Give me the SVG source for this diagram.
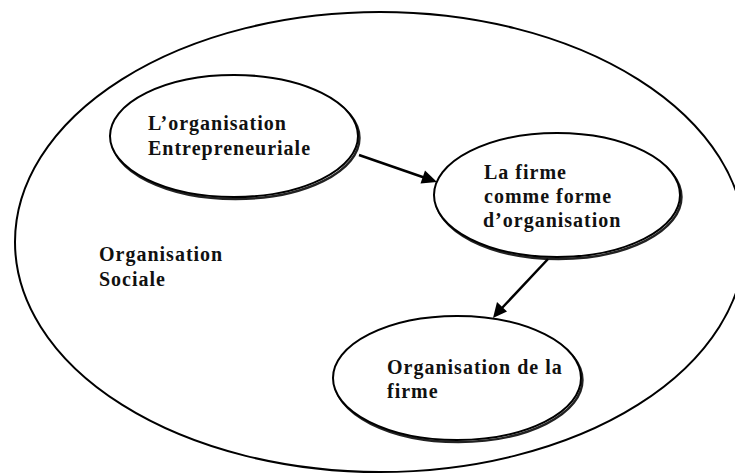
<svg xmlns="http://www.w3.org/2000/svg" width="735" height="473" viewBox="0 0 735 473">
  <style>
    .rim { fill: none; stroke: #000; stroke-width: 2; }
    .shade { fill: none; stroke: #222; stroke-width: 2.4; }
    .node { fill: #fff; stroke: #000; stroke-width: 2; }
    .lbl { font-family: "Liberation Serif", "Times New Roman", serif; font-weight: bold; font-size: 20px; letter-spacing: 1px; fill: #111; }
    .link { stroke: #000; stroke-width: 2.5; fill: none; }
    .tip { fill: #000; }
  </style>
  <rect width="735" height="473" fill="#fff"/>

  <!-- enclosing social organisation (runs slightly past the right and bottom borders) -->
  <g id="organisation-sociale">
    <ellipse class="rim" cx="380" cy="242" rx="365" ry="230"/>
    <text class="lbl" x="99" y="261">Organisation</text>
    <text class="lbl" x="99" y="286">Sociale</text>
  </g>

  <g id="organisation-entrepreneuriale">
    <ellipse class="shade" cx="235.5" cy="138" rx="124" ry="61"/>
    <ellipse class="node" cx="234" cy="136" rx="124" ry="61"/>
    <text class="lbl" x="148" y="130">L’organisation</text>
    <text class="lbl" x="148" y="155">Entrepreneuriale</text>
  </g>

  <g id="firme-forme-organisation">
    <ellipse class="shade" cx="558.5" cy="197" rx="123" ry="62"/>
    <ellipse class="node" cx="557" cy="195" rx="123" ry="62"/>
    <text class="lbl" x="484" y="179">La firme</text>
    <text class="lbl" x="484" y="203">comme forme</text>
    <text class="lbl" x="483" y="227">d’organisation</text>
  </g>

  <g id="organisation-firme">
    <ellipse class="shade" cx="458.5" cy="380" rx="124" ry="62"/>
    <ellipse class="node" cx="457" cy="378" rx="124" ry="62"/>
    <text class="lbl" x="387" y="374">Organisation de la</text>
    <text class="lbl" x="387" y="398">firme</text>
  </g>

  <g id="connectors">
    <line class="link" x1="359" y1="155" x2="424" y2="177.5"/>
    <path class="tip" d="M437,182 L420.5,183.5 L425,170.5 Z"/>
    <line class="link" x1="548" y1="259" x2="502" y2="308"/>
    <path class="tip" d="M493,318 L497,302 L507,311.5 Z"/>
  </g>
</svg>
